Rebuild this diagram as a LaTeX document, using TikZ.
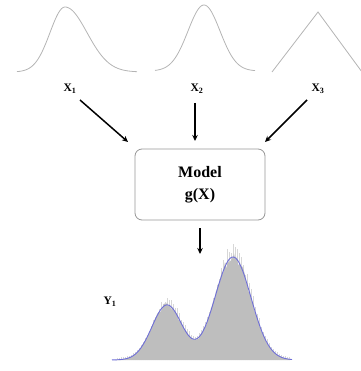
\documentclass[tikz,border=0pt]{standalone}
\usepackage{fontspec}
\setmainfont{Liberation Serif}
\usetikzlibrary{arrows.meta}
\definecolor{curvegray}{RGB}{180,180,180}
\definecolor{histgray}{RGB}{190,190,190}
\definecolor{spikegray}{RGB}{215,215,215}
\definecolor{fitblue}{RGB}{110,110,215}
\definecolor{boxgray}{RGB}{150,150,150}
\tikzset{
  dist/.style={curvegray, line width=0.8pt},
  lbl/.style={font=\bfseries\fontsize{11.5}{13}\selectfont, inner sep=1pt},
  flow/.style={line width=1.5pt, -{Stealth[length=6pt,width=5.5pt]}},
  modelbox/.style={draw=boxgray, line width=0.8pt, rounded corners=7pt, minimum width=130pt, minimum height=71pt, align=center, font=\bfseries\fontsize{16}{22}\selectfont},
  declare function={mix(\t)=55*exp(-((\t-167)^2)/450)+103*exp(-((\t-233)^2)/648);}
}
\begin{document}
\begin{tikzpicture}[x=1pt,y=-1pt]
\useasboundingbox (0,0) rectangle (360,371);
% input distributions
\draw[dist] plot[domain=17:65, samples=40, smooth] (\x,{72-65*exp(-((\x-65)^2)/450)})
  -- plot[domain=65:137, samples=50, smooth] (\x,{72-65*exp(-((\x-65)^2)/968)});
\draw[dist] plot[domain=155:255, samples=70, smooth] (\x,{71-66*exp(-((\x-204)^2)/512)});
\draw[dist] (272,72) -- (318,12) -- (362,72);
% labels
\node[lbl] (x1) at (70,89) {X\textsubscript{1}};
\node[lbl] (x2) at (197,89) {X\textsubscript{2}};
\node[lbl] (x3) at (318,89) {X\textsubscript{3}};
% model
\node[modelbox] (m) at (200,184.5) {Model\\g(X)};
\coordinate (a1s) at (80,100); \coordinate (a1e) at (128,142);
\coordinate (a2s) at (195,103); \coordinate (a2e) at (195,141);
\coordinate (a3s) at (307,100); \coordinate (a3e) at (265,142);
\draw[flow] (a1s) -- (a1e);
\draw[flow] (a2s) -- (a2e);
\draw[flow] (a3s) -- (a3e);
\coordinate (ds) at (200,228); \coordinate (de) at (200,254);
\draw[flow] (ds) -- (de);
% output histogram
\pgfmathsetseed{7}
\foreach \t in {117,119,...,289}{
  \pgfmathsetmacro{\h}{mix(\t)*(1+0.12*rnd)+2}
  \draw[spikegray, line width=0.5pt] (\t,360) -- (\t,{360-\h});
}
\fill[histgray] (115,360) -- plot[domain=115:290, samples=176] (\x,{360-mix(\x)*(1+0.05*rand)}) -- (290,360) -- cycle;
\draw[fitblue, line width=0.9pt] plot[domain=112:292, samples=120, smooth] (\x,{360-mix(\x)});
\node[lbl] (y1) at (110,302) {Y\textsubscript{1}};
\end{tikzpicture}
\end{document}
